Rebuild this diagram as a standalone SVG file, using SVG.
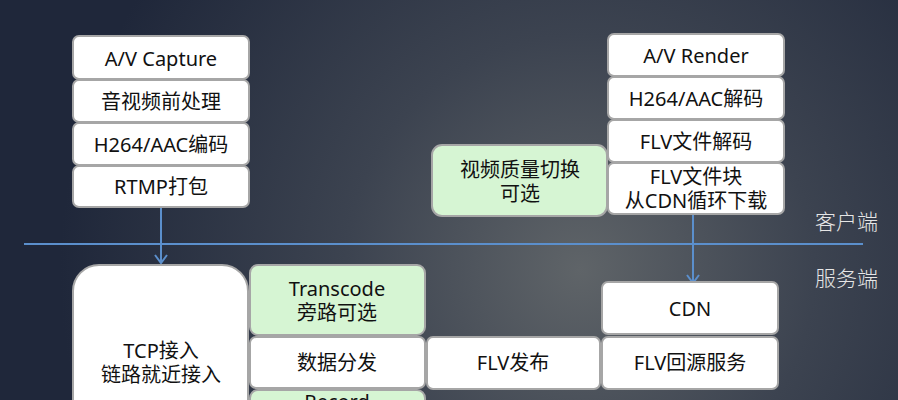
<svg xmlns="http://www.w3.org/2000/svg" width="898" height="400" viewBox="0 0 898 400">
<defs>
<radialGradient id="bg" cx="580" cy="270" r="520" gradientUnits="userSpaceOnUse">
<stop offset="0" stop-color="#5f6468"/>
<stop offset="0.45" stop-color="#3c4350"/>
<stop offset="1" stop-color="#1f273a"/>
</radialGradient>
<marker id="arr" markerWidth="12" markerHeight="14" refX="9" refY="7" orient="auto" markerUnits="userSpaceOnUse" viewBox="0 0 12 14">
<path d="M1,1 L9,7 L1,13" fill="none" stroke="#5b8fcc" stroke-width="2"/>
</marker>
</defs>
<style>
.w{fill:#ffffff;stroke:#a6a6a6;stroke-width:2}
.g{fill:#d6f5d3;stroke:#a6a6a6;stroke-width:2}
text{font-family:"Noto Sans","Noto Sans CJK SC",sans-serif;font-size:20px;fill:#111;text-anchor:middle}
.lbl{fill:#e6e6e6;font-size:21px;text-anchor:start;font-family:"Noto Sans CJK SC",sans-serif;font-weight:300}
.ln{stroke:#5b8fcc;stroke-width:2;fill:none}
</style>
<rect width="898" height="400" fill="url(#bg)"/>
<g id="connectors">
<line class="ln" x1="24" y1="244" x2="863" y2="244" stroke-width="2.5"/>
<line class="ln" x1="161" y1="208" x2="161" y2="263" marker-end="url(#arr)"/>
<line class="ln" x1="693" y1="215" x2="693" y2="283" marker-end="url(#arr)"/>
</g>
<g id="av-capture"><rect class="w" x="73" y="36" width="176" height="43" rx="6"/><text x="161" y="66">A/V Capture</text></g>
<g id="preprocess"><rect class="w" x="73" y="80" width="176" height="42" rx="6"/><text x="161" y="109">音视频前处理</text></g>
<g id="encode"><rect class="w" x="73" y="123" width="176" height="42" rx="6"/><text x="161" y="152">H264/AAC编码</text></g>
<g id="rtmp"><rect class="w" x="73" y="166" width="176" height="41" rx="6"/><text x="161" y="194">RTMP打包</text></g>
<g id="av-render"><rect class="w" x="608" y="34" width="176" height="42" rx="6"/><text x="696" y="63">A/V Render</text></g>
<g id="decode"><rect class="w" x="608" y="77" width="176" height="42" rx="6"/><text x="696" y="106">H264/AAC解码</text></g>
<g id="flv-decode"><rect class="w" x="608" y="120" width="176" height="42" rx="6"/><text x="696" y="149">FLV文件解码</text></g>
<g id="flv-download"><rect class="w" x="608" y="163" width="176" height="51" rx="6"/><text x="696" y="184">FLV文件块</text><text x="696" y="208">从CDN循环下载</text></g>
<g id="quality"><rect class="g" x="432" y="145" width="175" height="71" rx="10"/><text x="520" y="177">视频质量切换</text><text x="520" y="201">可选</text></g>
<g id="tcp"><rect class="w" x="73" y="265" width="175" height="170" rx="26"/><text x="161" y="358">TCP接入</text><text x="161" y="382">链路就近接入</text></g>
<g id="transcode"><rect class="g" x="250" y="265" width="175" height="70" rx="8"/><text x="337" y="296">Transcode</text><text x="337" y="320">旁路可选</text></g>
<g id="dispatch"><rect class="w" x="250" y="337" width="175" height="51" rx="6"/><text x="337" y="370">数据分发</text></g>
<g id="record"><rect class="g" x="250" y="390" width="175" height="50" rx="8"/><text x="337" y="409">Record</text></g>
<g id="flv-publish"><rect class="w" x="427" y="337" width="173" height="52" rx="6"/><text x="513" y="370">FLV发布</text></g>
<g id="cdn"><rect class="w" x="602" y="282" width="176" height="52" rx="6"/><text x="690" y="316">CDN</text></g>
<g id="flv-origin"><rect class="w" x="602" y="337" width="176" height="52" rx="6"/><text x="690" y="370">FLV回源服务</text></g>
<text class="lbl" x="815" y="229">客户端</text>
<text class="lbl" x="815" y="286">服务端</text>
</svg>
